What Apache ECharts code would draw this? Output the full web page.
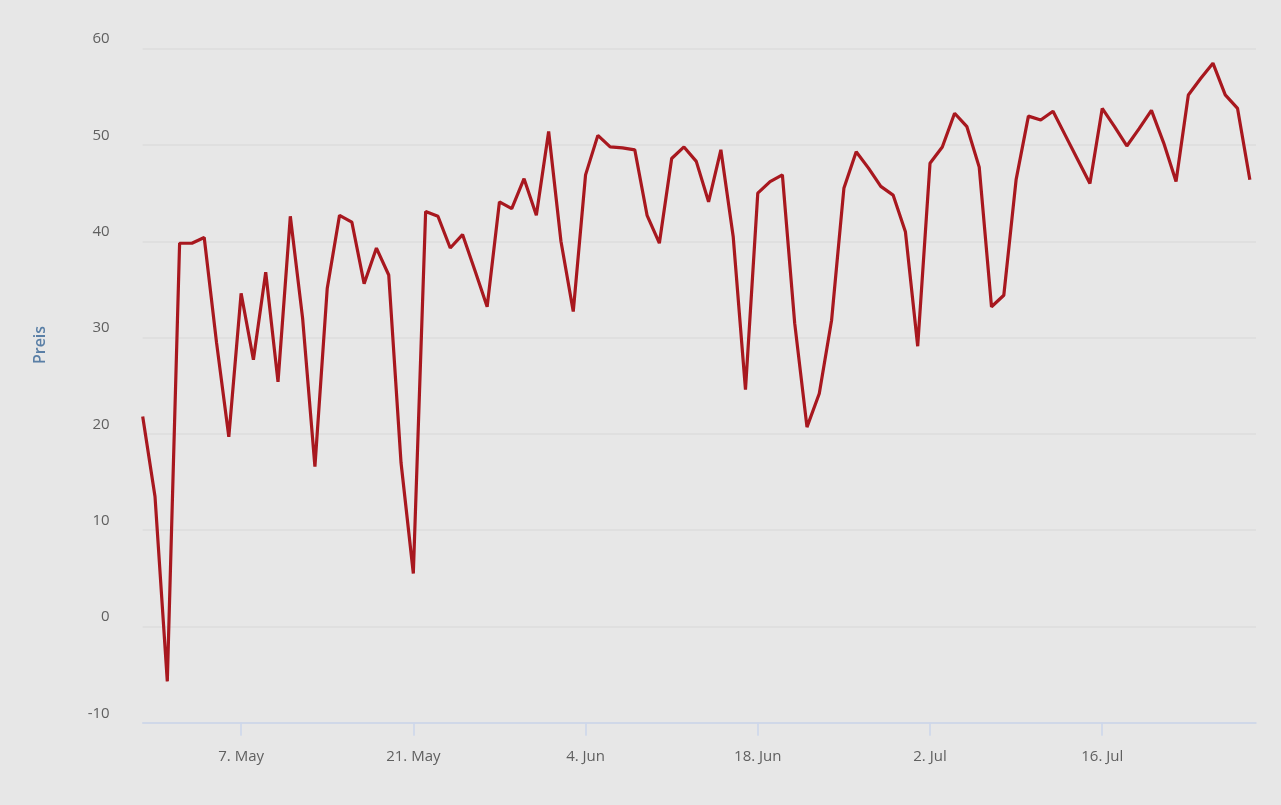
<!DOCTYPE html>
<html>
<head>
<meta charset="utf-8">
<script src="https://cdn.jsdelivr.net/npm/echarts@6/dist/echarts.min.js"></script>
<style>
  html, body { margin: 0; padding: 0; background: #e7e7e7; }
  #chart { width: 1281px; height: 805px; }
</style>
</head>
<body>
<div id="chart"></div>
<script>
// Day offsets are relative to 7 May; the series starts 29 Apr (offset -8), one value per day.
const firstDayOffset = -8;
const preis = [
  21.8, 13.5, -5.7, 39.8, 39.8, 40.4, 29.5, 19.7,
  34.6, 27.7, 36.8, 25.4, 42.6, 32.0, 16.6, 35.1, 42.7, 42.0, 35.6, 39.3, 36.5, 17.0,
  5.5, 43.1, 42.6, 39.3, 40.7, 37.0, 33.2, 44.1, 43.4, 46.5, 42.7, 51.4, 40.0, 32.7,
  46.9, 51.0, 49.8, 49.7, 49.5, 42.7, 39.8, 48.6, 49.8, 48.3, 44.1, 49.5, 40.5, 24.6,
  45.0, 46.2, 46.9, 31.5, 20.7, 24.2, 31.8, 45.5, 49.3, 47.6, 45.7, 44.8, 41.0, 29.1,
  48.1, 49.8, 53.3, 51.9, 47.7, 33.2, 34.4, 46.4, 53.0, 52.6, 53.5, 51.0, 48.5, 46.0,
  53.8, 51.9, 49.9, 51.7, 53.6, 50.2, 46.2, 55.2, 56.9, 58.5, 55.2, 53.8, 46.4
];
const tickOffsets = [0, 14, 28, 42, 56, 70];
const tickLabels = ['7. May', '21. May', '4. Jun', '18. Jun', '2. Jul', '16. Jul'];
const yTicks = [-10, 0, 10, 20, 30, 40, 50, 60];
const axisTitle = 'Preis';

const seriesData = preis.map((v, i) => [firstDayOffset + i, v]);

const chart = echarts.init(document.getElementById('chart'), null, { renderer: 'canvas' });
chart.setOption({
  backgroundColor: '#e7e7e7',
  animation: false,
  grid: { left: 142.7, right: 25, top: 48.7, bottom: 82.2, containLabel: false },
  xAxis: {
    type: 'value',
    min: firstDayOffset,
    max: 82.5,
    axisLine: { show: true, onZero: false, lineStyle: { color: '#ccd6eb', width: 1.5 } },
    axisTick: { show: true, customValues: tickOffsets, length: 13, lineStyle: { color: '#ccd6eb', width: 1.5 } },
    splitLine: { show: false },
    axisLabel: {
      customValues: tickOffsets,
      margin: 26,
      color: '#606060',
      fontSize: 15,
      fontFamily: 'Open Sans',
      formatter: function (v) {
        const k = tickOffsets.indexOf(v);
        return k >= 0 ? tickLabels[k] : '';
      }
    }
  },
  yAxis: {
    type: 'value',
    min: yTicks[0],
    max: yTicks[yTicks.length - 1],
    interval: 10,
    axisLine: { show: false },
    axisTick: { show: false },
    splitLine: { show: true, lineStyle: { color: '#dcdcdc', width: 1.5 } },
    axisLabel: {
      margin: 33,
      color: '#606060',
      fontSize: 15,
      fontFamily: 'Open Sans',
      verticalAlign: 'bottom',
      padding: [0, 0, 2, 0]
    }
  },
  graphic: [{
    type: 'text',
    x: 40,
    y: 345,
    rotation: Math.PI / 2,
    style: {
      text: axisTitle,
      fill: '#5a7fa6',
      font: '600 16px "Open Sans"',
      textAlign: 'center',
      textVerticalAlign: 'middle'
    }
  }],
  series: [{
    type: 'line',
    data: seriesData,
    showSymbol: false,
    symbol: 'none',
    lineStyle: { color: '#a8181f', width: 3.2 },
    itemStyle: { color: '#a8181f' }
  }]
});
</script>
</body>
</html>
